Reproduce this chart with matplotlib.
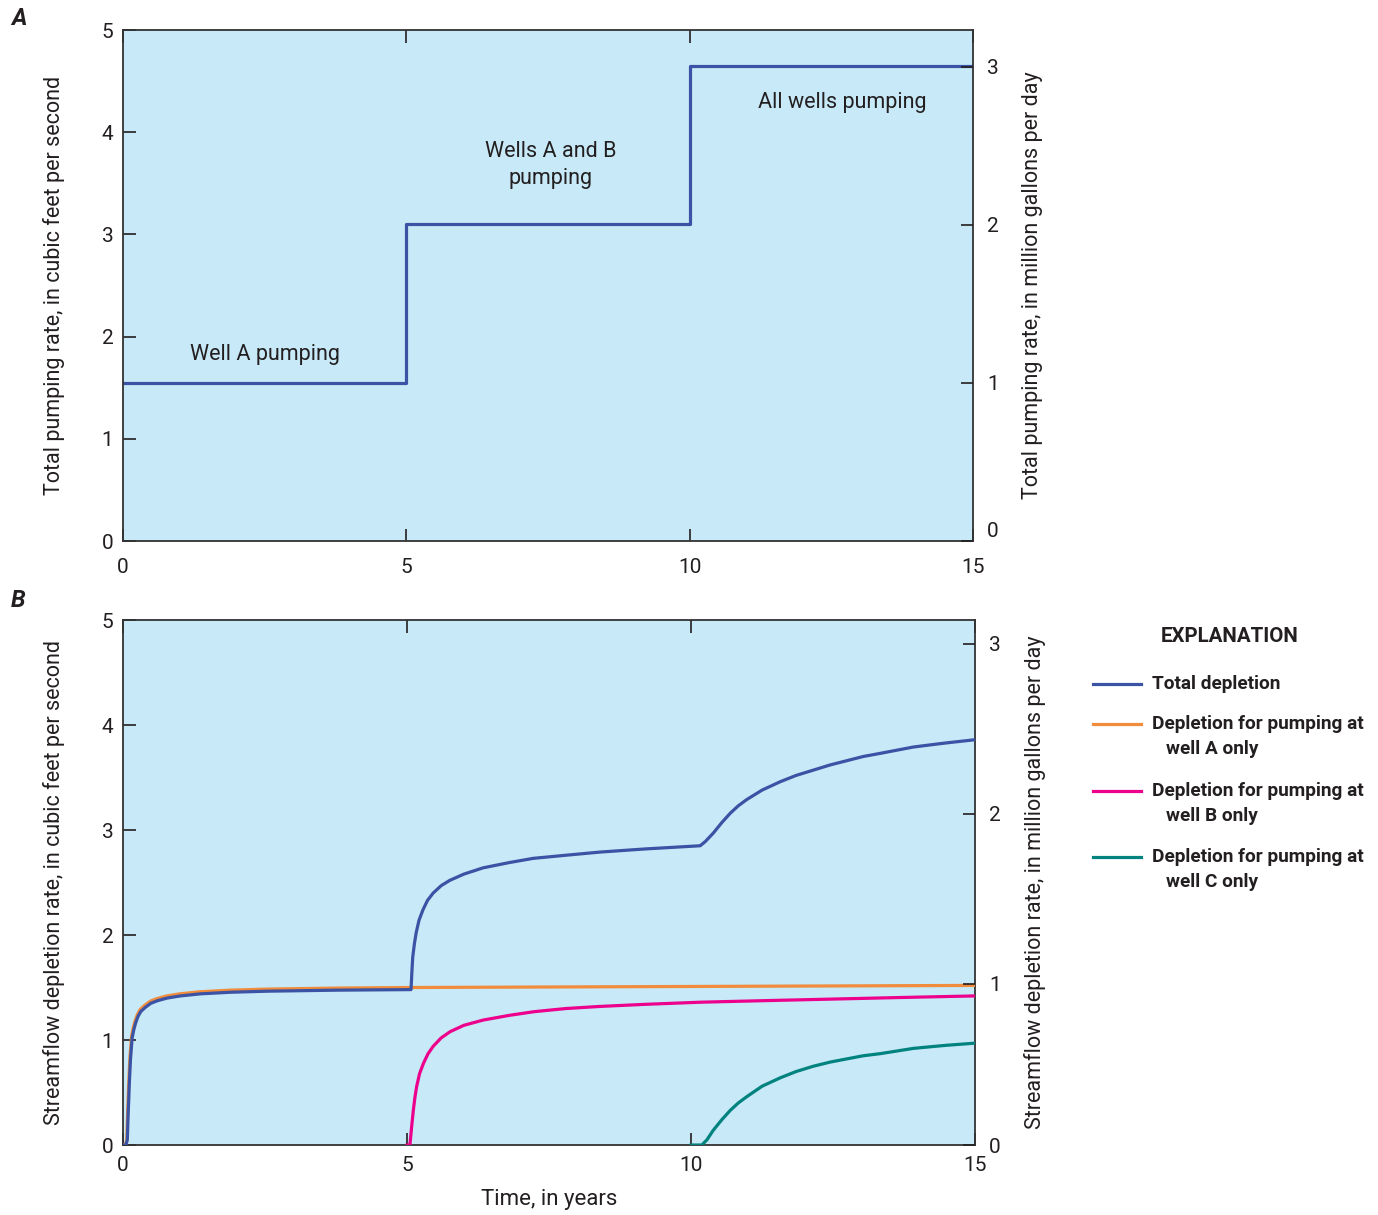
import numpy as np
import matplotlib
matplotlib.use("Agg")
import matplotlib.pyplot as plt
from matplotlib.lines import Line2D

plt.rcParams['font.family'] = ['Roboto', 'DejaVu Sans']

# --- data: panel A, total pumping rate (cfs) ---
pump_t = [0, 5, 10, 15]
pump_q = [1.55, 3.10, 4.65, 4.65]

# --- data: panel B, streamflow depletion (cfs) ---
well_a_t = [0.0, 0.04, 0.065, 0.08, 0.09, 0.10, 0.12, 0.15, 0.18, 0.21, 0.25, 0.30, 0.38, 0.48,
            0.6, 0.77, 1.0, 1.36, 1.9, 2.53, 3.8, 5.05, 7.5, 10.0, 12.5, 15.0]
well_a_q = [0.0, 0.0, 0.05, 0.30, 0.45, 0.60, 0.83, 1.04, 1.12, 1.18, 1.24, 1.29, 1.33, 1.37,
            1.395, 1.42, 1.44, 1.46, 1.475, 1.485, 1.495, 1.50, 1.505, 1.51, 1.515, 1.52]

total_t = [0.0, 0.05, 0.075, 0.09, 0.10, 0.11, 0.13, 0.16, 0.19, 0.22, 0.26, 0.31, 0.39, 0.49,
           0.61, 0.78, 1.01, 1.37, 1.9, 2.54, 3.8, 5.07,
           5.085, 5.10, 5.13, 5.16, 5.21, 5.28, 5.36, 5.46, 5.6, 5.75, 6.0, 6.34, 6.8, 7.22,
           7.8, 8.4, 9.2, 10.16,
           10.25, 10.39, 10.54, 10.69, 10.83, 10.98, 11.25, 11.57, 11.85, 12.15, 12.45, 12.74,
           13.03, 13.33, 13.62, 13.91, 14.2, 14.5, 14.75, 15.0]
total_q = [0.0, 0.0, 0.05, 0.30, 0.43, 0.58, 0.81, 1.02, 1.10, 1.16, 1.22, 1.27, 1.31, 1.35,
           1.375, 1.40, 1.42, 1.44, 1.455, 1.465, 1.475, 1.48,
           1.65, 1.79, 1.92, 2.02, 2.14, 2.24, 2.33, 2.40, 2.47, 2.52, 2.58, 2.64, 2.69, 2.73,
           2.76, 2.79, 2.82, 2.85,
           2.89, 2.97, 3.07, 3.16, 3.23, 3.29, 3.38, 3.46, 3.52, 3.57, 3.62, 3.66,
           3.70, 3.73, 3.76, 3.79, 3.81, 3.83, 3.845, 3.86]

well_b_t = [5.0, 5.05, 5.08, 5.11, 5.14, 5.17, 5.22, 5.29, 5.37, 5.46, 5.6, 5.76, 6.0, 6.34,
            6.8, 7.24, 7.8, 8.4, 9.2, 10.16, 11.3, 12.5, 13.7, 15.0]
well_b_q = [0.0, 0.0, 0.17, 0.33, 0.46, 0.56, 0.68, 0.78, 0.87, 0.94, 1.02, 1.08, 1.14, 1.19,
            1.235, 1.27, 1.30, 1.32, 1.34, 1.36, 1.375, 1.39, 1.405, 1.42]

well_c_t = [10.0, 10.19, 10.28, 10.39, 10.54, 10.69, 10.83, 10.98, 11.25, 11.57, 11.85, 12.15,
            12.45, 12.74, 13.03, 13.33, 13.62, 13.91, 14.2, 14.5, 14.75, 15.0]
well_c_q = [0.0, 0.0, 0.05, 0.14, 0.24, 0.33, 0.40, 0.46, 0.56, 0.64, 0.70, 0.75,
            0.79, 0.82, 0.85, 0.87, 0.895, 0.92, 0.935, 0.95, 0.96, 0.97]

x_ticks = [0, 5, 10, 15]

bg = '#C7E9F8'
spine_col = '#333333'
txt_col = '#231F20'
c_total = '#3A53A4'
c_a = '#F08C3C'
c_b = '#EC008C'
c_c = '#00827E'

fig = plt.figure(figsize=(13.78, 12.15), dpi=100)
ax1 = fig.add_axes([0.0893, 0.5547, 0.6168, 0.4206])
ax2 = fig.add_axes([0.0893, 0.0576, 0.6183, 0.4321])


def style(ax, xpad):
    ax.set_facecolor(bg)
    ax.set_xlim(0, 15)
    ax.set_ylim(0, 5)
    ax.set_xticks(x_ticks)
    ax.set_yticks(range(6))
    ax.tick_params(direction='in', length=9, width=1.2, top=True, right=False,
                   labelsize=15, colors=txt_col)
    ax.tick_params(axis='x', pad=xpad)
    ax.tick_params(axis='y', pad=7)
    for s in ax.spines.values():
        s.set_color(spine_col)
        s.set_linewidth(1.3)


def style_right(r):
    r.tick_params(direction='in', length=9, width=1.2, labelsize=15, pad=10, colors=txt_col)
    for s in r.spines.values():
        s.set_visible(False)


# panel A
style(ax1, 12)
ax1.step(pump_t, pump_q, where='post', color=c_total, lw=2.3)
ax1.set_ylabel('Total pumping rate, in cubic feet per second', fontsize=15.5, labelpad=26,
               color=txt_col)
ax1.text(2.5, 1.83, 'Well A pumping', fontsize=15.5, ha='center', va='center', color=txt_col)
ax1.text(7.55, 3.68, 'Wells A and B\npumping', fontsize=15.5, ha='center', va='center',
         linespacing=1.35, color=txt_col)
ax1.text(12.7, 4.29, 'All wells pumping', fontsize=15.5, ha='center', va='center',
         color=txt_col)
r1 = ax1.twinx()
r1.set_ylim(0, 5 / 1.547)
r1.set_yticks([0, 1, 2, 3])
style_right(r1)
r1.get_yticklabels()[0].set_va('bottom')
r1.set_ylabel('Total pumping rate, in million gallons per day', fontsize=15.5, labelpad=17,
              color=txt_col)

# panel B
style(ax2, 8)
ax2.plot(well_a_t, well_a_q, color=c_a, lw=2.3, zorder=3)
ax2.plot(total_t, total_q, color=c_total, lw=2.3, zorder=4)
ax2.plot(well_b_t, well_b_q, color=c_b, lw=2.3, zorder=3)
ax2.plot(well_c_t, well_c_q, color=c_c, lw=2.3, zorder=3)
ax2.set_ylabel('Streamflow depletion rate, in cubic feet per second', fontsize=15.5,
               labelpad=26, color=txt_col)
ax2.set_xlabel('Time, in years', fontsize=16, labelpad=10, color=txt_col)
r2 = ax2.twinx()
r2.set_ylim(0.05, 3.14)
r2.set_yticks([0.05, 1, 2, 3])
r2.set_yticklabels(['0', '1', '2', '3'])
style_right(r2)
r2.set_ylabel('Streamflow depletion rate, in million gallons per day', fontsize=15.5,
              labelpad=17, color=txt_col)

# panel letters
fig.text(0.008, 0.985, 'A', fontsize=17, fontweight='bold', style='italic', va='center',
         color=txt_col)
fig.text(0.008, 0.506, 'B', fontsize=17, fontweight='bold', style='italic', va='center',
         color=txt_col)

# explanation
fig.text(0.8926, 0.4765, 'EXPLANATION', fontsize=14.8, fontweight='bold', ha='center',
         va='center', color=txt_col)
entries = [
    (c_total, 'Total depletion', None, 0.4370),
    (c_a, 'Depletion for pumping at', 'well A only', 0.4041),
    (c_b, 'Depletion for pumping at', 'well B only', 0.3490),
    (c_c, 'Depletion for pumping at', 'well C only', 0.2947),
]
for col, l1, l2, yy in entries:
    fig.add_artist(Line2D([0.7932, 0.8280], [yy, yy], color=col, lw=2.3,
                          transform=fig.transFigure))
    fig.text(0.8360, yy, l1, fontsize=13.7, fontweight='bold', va='center', color=txt_col)
    if l2:
        fig.text(0.8462, yy - 0.0205, l2, fontsize=13.7, fontweight='bold', va='center',
                 color=txt_col)

fig.savefig('out.png', dpi=100)
